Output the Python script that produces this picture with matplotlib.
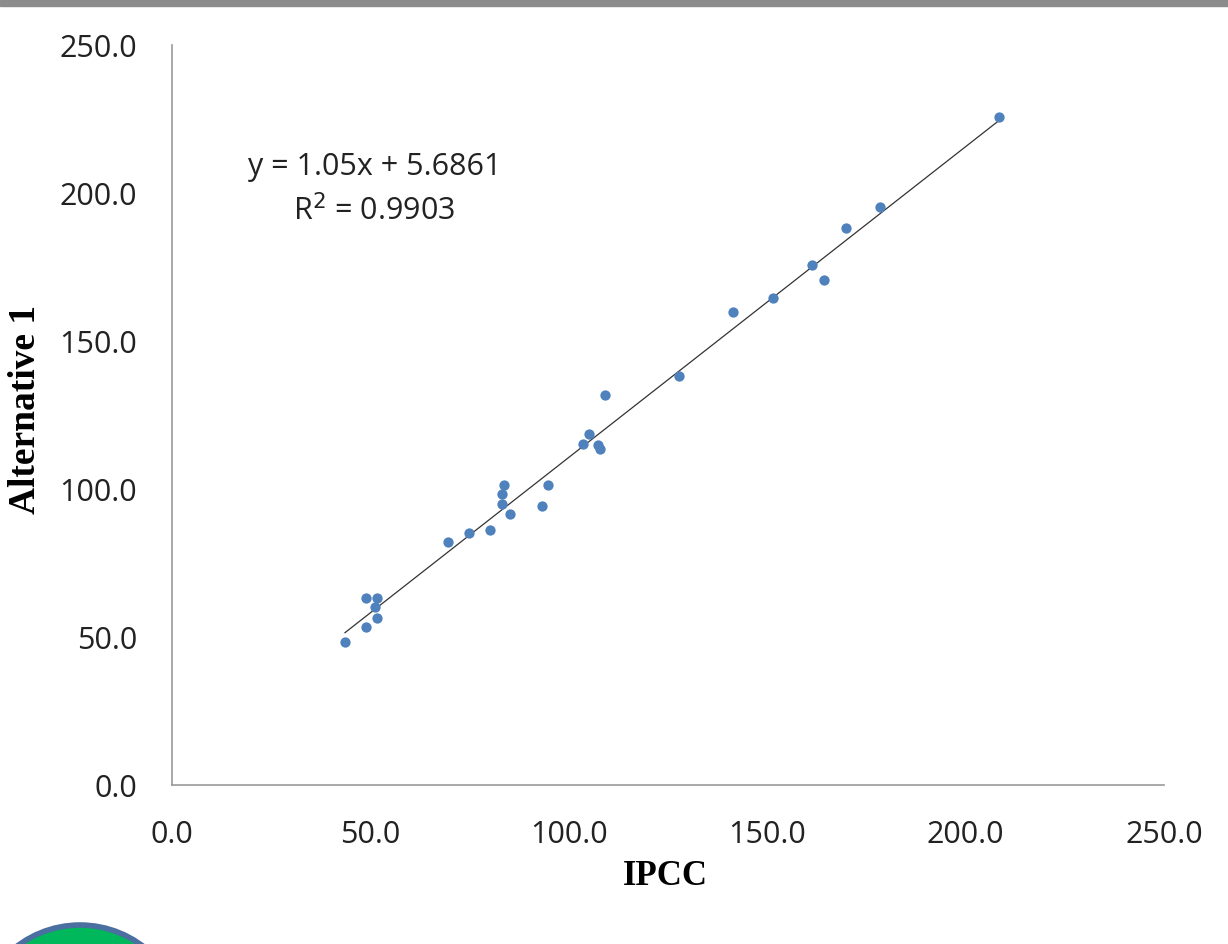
import matplotlib
matplotlib.use('Agg')

import numpy as np
import matplotlib.pyplot as plt
from matplotlib.patches import Rectangle, Ellipse

# datos
ipcc = [43.6, 48.9, 48.9, 51.7, 51.2, 51.7, 69.6, 74.8, 80.1, 83.7, 83.2, 83.2,
        85.2, 94.8, 93.2, 109.1, 105.1, 103.6, 107.4, 107.9, 127.8, 141.4,
        151.5, 161.3, 164.3, 169.9, 178.4, 208.4]
alt1 = [48.3, 53.4, 63.2, 63.2, 60.1, 56.4, 82.1, 85.1, 86.1, 101.3, 98.3, 94.9,
        91.5, 101.3, 94.2, 131.7, 118.6, 115.2, 114.9, 113.5, 138.2, 159.8,
        164.5, 175.7, 170.6, 188.2, 195.3, 225.6]
ticks = [0, 50, 100, 150, 200, 250]
slope = 1.05
intercept = 5.6861

sans = ['Open Sans', 'DejaVu Sans']
serif = ['Liberation Serif', 'DejaVu Serif']

fig = plt.figure(figsize=(12.28, 9.44), dpi=100)
ax = fig.add_axes([0.140, 0.1684, 0.808, 0.7839])

ax.scatter(ipcc, alt1, s=55, color='#4F81BD', zorder=3, linewidths=0)

# linea de tendencia
xs = np.array([min(ipcc), max(ipcc)])
ax.plot(xs, slope * xs + intercept, color='#333333', lw=0.9, zorder=2)

ax.set_xlim(0, 250)
ax.set_ylim(0, 250)
ax.set_xticks(ticks)
ax.set_yticks(ticks)
ax.set_xticklabels([f'{t:.1f}' for t in ticks], family=sans, fontsize=22)
ax.set_yticklabels([f'{t:.1f}' for t in ticks], family=sans, fontsize=22)
ax.tick_params(length=0, colors='#222222')
ax.tick_params(axis='x', pad=25)
ax.tick_params(axis='y', pad=25)
for s in ['top', 'right']:
    ax.spines[s].set_visible(False)
for s in ['left', 'bottom']:
    ax.spines[s].set_color('#999999')
    ax.spines[s].set_linewidth(1.2)

ax.set_xlabel('IPCC', family=serif, fontweight='bold', fontsize=25, va='center')
ax.set_ylabel('Alternative 1', family=serif, fontweight='bold', fontsize=27,
              va='center')
ax.xaxis.set_label_coords(0.497, -0.124)
ax.yaxis.set_label_coords(-0.148, 0.507)

ax.text(51, 201, 'y = 1.05x + 5.6861\nR$^2$ = 0.9903', ha='center', va='center',
        family=sans, fontsize=22, linespacing=1.5, color='#222222')

# banda gris superior y logo parcial abajo
fig.patches.append(Rectangle((0, 1 - 6 / 944), 1, 6 / 944, transform=fig.transFigure,
                             color='#8c8c8c', zorder=0))
fig.patches.append(Ellipse((80 / 1228, 1 - 1029 / 944), 208 / 1228, 208 / 944,
                           transform=fig.transFigure, facecolor='#00B85C',
                           edgecolor='#4A6FA0', linewidth=4))

fig.savefig('out.png', dpi=100)
